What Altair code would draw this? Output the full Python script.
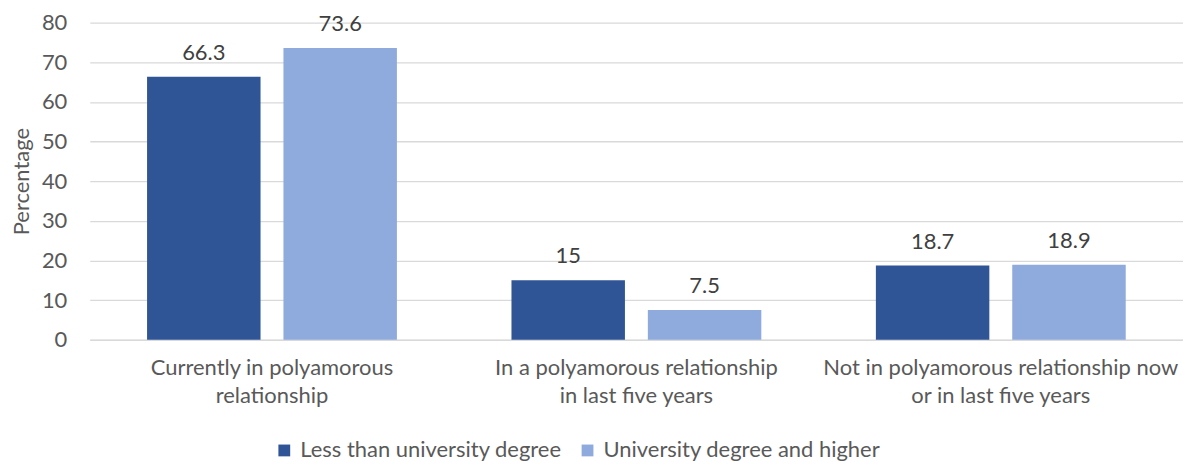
import altair as alt
import pandas as pd

categories = [
    "Currently in polyamorous\nrelationship",
    "In a polyamorous relationship\nin last five years",
    "Not in polyamorous relationship now\nor in last five years",
]
series = ["Less than university degree", "University degree and higher"]
less_than_degree = [66.3, 15, 18.7]
degree_and_higher = [73.6, 7.5, 18.9]
colors = ["#2F5597", "#8FAADC"]
y_ticks = [0, 10, 20, 30, 40, 50, 60, 70, 80]

rows = []
for c, a, b in zip(categories, less_than_degree, degree_and_higher):
    rows.append({"category": c, "group": series[0], "value": a, "label": f"{a:g}"})
    rows.append({"category": c, "group": series[1], "value": b, "label": f"{b:g}"})
df = pd.DataFrame(rows)

FONT = "Lato"
FS = 22

base = alt.Chart(df).encode(
    x=alt.X(
        "category:N",
        sort=categories,
        scale=alt.Scale(paddingInner=0, paddingOuter=0),
        axis=alt.Axis(
            title=None,
            labelAngle=0,
            labelExpr="split(datum.label, '\\n')",
            labelFontSize=FS,
            labelColor="#595959",
            labelFont=FONT,
            labelLineHeight=28,
            labelPadding=18,
            labelBaseline="top",
            labelLimit=1000,
            ticks=False,
            domain=True,
            domainColor="#d9d9d9",
            grid=False,
        ),
    ),
    xOffset=alt.XOffset(
        "group:N",
        sort=series,
        scale=alt.Scale(paddingInner=0.168, paddingOuter=0.42),
    ),
    y=alt.Y(
        "value:Q",
        scale=alt.Scale(domain=[0, 80]),
        axis=alt.Axis(
            title="Percentage",
            values=y_ticks,
            tickCount=9,
            labelOverlap=False,
            labelFontSize=FS,
            labelColor="#595959",
            labelFont=FONT,
            labelPadding=23,
            titleFontSize=FS,
            titleFont=FONT,
            titleColor="#595959",
            titleFontWeight="normal",
            titlePadding=8,
            ticks=False,
            domain=False,
            gridColor="#d9d9d9",
            gridWidth=1.3,
        ),
    ),
)

bars = base.mark_bar().encode(
    color=alt.Color(
        "group:N",
        sort=series,
        scale=alt.Scale(domain=series, range=colors),
        legend=alt.Legend(
            title=None,
            orient="none",
            legendX=184,
            legendY=418,
            direction="horizontal",
            symbolType="square",
            symbolSize=140,
            symbolStrokeWidth=0,
            labelFontSize=FS,
            labelFont=FONT,
            labelColor="#595959",
            labelLimit=1000,
            columnPadding=14,
            labelOffset=5,
        ),
    ),
)

labels = base.mark_text(
    baseline="bottom", dy=-12, fontSize=FS, font=FONT, color="#404040"
).encode(text="label:N")

chart = (
    alt.layer(bars, labels)
    .properties(
        width=1096,
        height=318,
        autosize=alt.AutoSizeParams(type="none"),
        padding={"left": 82, "top": 14, "right": 0, "bottom": 126},
    )
    .configure_view(stroke=None)
)

chart.save("out.html", embed_options={"renderer": "svg", "actions": False})
